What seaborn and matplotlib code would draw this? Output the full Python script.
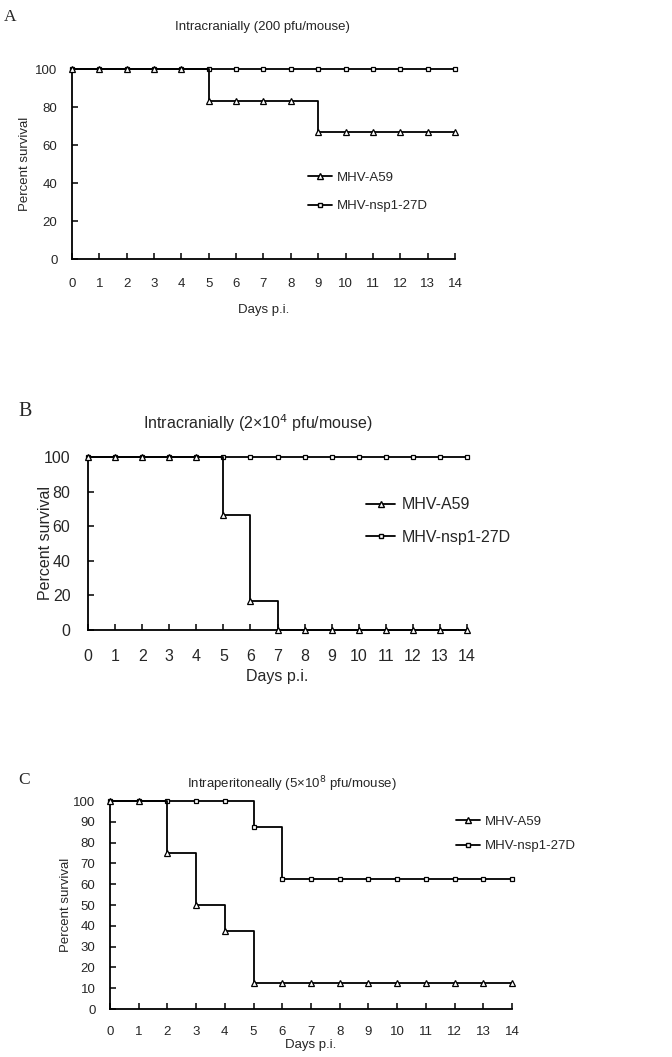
import numpy as np
import pandas as pd
import seaborn as sns
import matplotlib.pyplot as plt
from matplotlib.lines import Line2D

sns.set_style('white')
plt.rcParams['font.family'] = ['Liberation Sans', 'DejaVu Sans']

# Data: percent survival per day post infection
days = list(range(15))
a_a59 = [100, 100, 100, 100, 100, 83.3, 83.3, 83.3, 83.3, 66.7, 66.7, 66.7, 66.7, 66.7, 66.7]
a_nsp1 = [100] * 15
b_a59 = [100, 100, 100, 100, 100, 66.7, 16.7, 0, 0, 0, 0, 0, 0, 0, 0]
b_nsp1 = [100] * 15
c_a59 = [100, 100, 75, 50, 37.5, 12.5, 12.5, 12.5, 12.5, 12.5, 12.5, 12.5, 12.5, 12.5, 12.5]
c_nsp1 = [100, 100, 100, 100, 100, 87.5, 62.5, 62.5, 62.5, 62.5, 62.5, 62.5, 62.5, 62.5, 62.5]

series_names = ['MHV-A59', 'MHV-nsp1-27D']

W, H = 672, 1057
fig = plt.figure(figsize=(W / 100, H / 100), dpi=100)


def box(l, r, t, b):
    return [l / W, 1 - b / H, (r - l) / W, (b - t) / H]


def panel(rect, a59, nsp1, yticks, fs, xpad, legend_pos, title, title_xy, letter, letter_xy,
          ylab_x, xlab_y, legend_names):
    ax = fig.add_axes(rect)
    df = pd.DataFrame({'day': days * 2, 'surv': nsp1 + a59,
                       'group': [series_names[1]] * 15 + [series_names[0]] * 15})
    for name, mk, ms in [(series_names[1], 's', 3.5), (series_names[0], '^', 4.5)]:
        sub = df[df['group'] == name]
        sns.lineplot(data=sub, x='day', y='surv', ax=ax, color='black', lw=1.3,
                     drawstyle='steps-post', marker=mk, markersize=ms,
                     markerfacecolor='white', markeredgecolor='black',
                     markeredgewidth=0.9, clip_on=False, zorder=3)
    ax.set_xlim(0, 14)
    ax.set_ylim(0, 100)
    ax.set_xticks(days)
    ax.set_yticks(yticks)
    ax.tick_params(bottom=True, left=True, direction='in', length=4, width=1.1,
                   color='black', labelsize=fs)
    ax.tick_params(axis='x', pad=xpad)
    ax.tick_params(axis='y', pad=fs * 1.1)
    for s in ['top', 'right']:
        ax.spines[s].set_visible(False)
    for s in ['left', 'bottom']:
        ax.spines[s].set_linewidth(1.3)
        ax.spines[s].set_color('black')
    ax.set_xlabel('')
    ax.set_ylabel('')
    ymid = rect[1] + rect[3] / 2
    fig.text(ylab_x / W, ymid, 'Percent survival', rotation=90,
             ha='center', va='center', fontsize=fs)
    fig.text((rect[0] + rect[2] / 2), 1 - xlab_y / H, 'Days p.i.', ha='center',
             va='center', fontsize=fs)
    fig.text(title_xy[0] / W, 1 - title_xy[1] / H, title, ha='center', va='center',
             fontsize=fs)
    fig.text(letter_xy[0] / W, 1 - letter_xy[1] / H, letter, ha='left', va='center',
             fontsize=fs + 3, family='Liberation Serif')
    handles = [Line2D([], [], color='black', lw=1.3, marker='^', markersize=4.5,
                      mfc='white', mec='black'),
               Line2D([], [], color='black', lw=1.3, marker='s', markersize=3.5,
                      mfc='white', mec='black')]
    ax.legend(handles, legend_names, frameon=False, fontsize=fs, handlelength=1.8,
              handletextpad=0.4, labelspacing=legend_pos[2],
              loc='upper left', bbox_to_anchor=(legend_pos[0] / W, 1 - legend_pos[1] / H),
              bbox_transform=fig.transFigure)
    return ax


panel(box(72, 455, 69, 259), a_a59, a_nsp1, list(range(0, 101, 20)), 9.5, 14,
      (296, 160, 1.2), 'Intracranially (200 pfu/mouse)', (262, 27), 'A', (4, 17),
      25, 310, series_names)

panel(box(88, 467, 457, 630), b_a59, b_nsp1, list(range(0, 101, 20)), 11.5, 13.5,
      (352, 483, 1.1), 'Intracranially (2×10$^{4}$ pfu/mouse)', (258, 423), 'B', (18, 412),
      46, 676, series_names)

panel(box(110, 512, 801, 1009), c_a59, c_nsp1, list(range(0, 101, 10)), 9.5, 12,
      (444, 804, 0.9), 'Intraperitoneally (5×10$^{8}$ pfu/mouse)', (292, 784), 'C', (18, 780),
      66, 1045, series_names)

fig.savefig('out.png', dpi=100)
